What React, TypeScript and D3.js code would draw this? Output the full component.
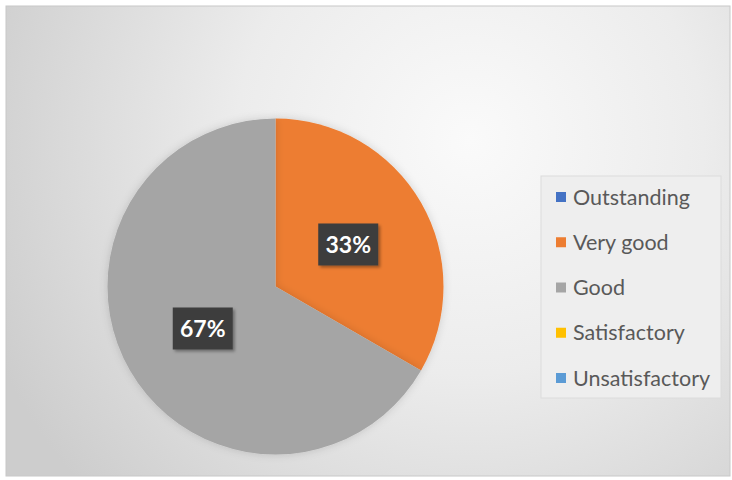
import { useRef, useEffect } from 'react'
import * as d3 from 'd3'

const categories = ['Outstanding', 'Very good', 'Good', 'Satisfactory', 'Unsatisfactory']
const values = [0, 1, 2, 0, 0]
const colors = ['#4472C4', '#ED7D31', '#A5A5A5', '#FFC000', '#5B9BD5']

export default function App() {
  const ref = useRef<SVGSVGElement>(null)

  useEffect(() => {
    if (!ref.current) return
    const svg = d3.select(ref.current)
    svg.selectAll('*').remove()

    const W = 732
    const H = 480
    const defs = svg.append('defs')

    // background radial gradient
    const grad = defs
      .append('radialGradient')
      .attr('id', 'bg')
      .attr('gradientUnits', 'userSpaceOnUse')
      .attr('cx', 470)
      .attr('cy', 140)
      .attr('r', 520)
    grad.append('stop').attr('offset', '0%').attr('stop-color', '#fafafa')
    grad.append('stop').attr('offset', '45%').attr('stop-color', '#ececec')
    grad.append('stop').attr('offset', '100%').attr('stop-color', '#cdcdcd')

    const shadow = defs.append('filter').attr('id', 'shadow').attr('x', '-20%').attr('y', '-20%').attr('width', '150%').attr('height', '150%')
    shadow
      .append('feDropShadow')
      .attr('dx', 2)
      .attr('dy', 2)
      .attr('stdDeviation', 1.5)
      .attr('flood-color', '#000')
      .attr('flood-opacity', 0.35)

    const pieShadow = defs.append('filter').attr('id', 'pieShadow').attr('x', '-20%').attr('y', '-20%').attr('width', '140%').attr('height', '140%')
    pieShadow
      .append('feDropShadow')
      .attr('dx', 0)
      .attr('dy', 0)
      .attr('stdDeviation', 4)
      .attr('flood-color', '#000')
      .attr('flood-opacity', 0.15)

    svg.append('rect').attr('width', W).attr('height', H).attr('fill', '#ffffff')
    svg
      .append('rect')
      .attr('x', 6)
      .attr('y', 6)
      .attr('width', W - 8)
      .attr('height', H - 10)
      .attr('fill', 'url(#bg)')
      .attr('stroke', '#c8c8c8')
      .attr('stroke-width', 1)

    // pie
    const cx = 275.5
    const cy = 286.5
    const r = 168
    const pie = d3
      .pie<number>()
      .sort(null)
      .value((d) => d)
    const arcs = pie(values)
    const arc = d3.arc<d3.PieArcDatum<number>>().innerRadius(0).outerRadius(r)

    const g = svg.append('g').attr('transform', `translate(${cx},${cy})`)
    g.selectAll('path.slice')
      .data(arcs.filter((a) => a.value > 0))
      .join('path')
      .attr('class', 'slice')
      .attr('d', arc)
      .attr('fill', (d) => colors[d.index])
      .attr('filter', 'url(#pieShadow)')

    const total = d3.sum(values)
    const labels = g
      .selectAll('g.lbl')
      .data(arcs.filter((a) => a.value > 0))
      .join('g')
      .attr('class', 'lbl')
      .attr('transform', (d) => `translate(${arc.centroid(d)})`)
    labels
      .append('rect')
      .attr('x', -30)
      .attr('y', -21)
      .attr('width', 60)
      .attr('height', 42)
      .attr('fill', '#3d3d3d')
      .attr('filter', 'url(#shadow)')
    labels
      .append('text')
      .attr('text-anchor', 'middle')
      .attr('dy', '0.36em')
      .attr('font-family', 'Lato, "Open Sans", sans-serif')
      .attr('font-weight', 'bold')
      .attr('font-size', 23)
      .attr('fill', '#ffffff')
      .text((d) => `${Math.round((d.value / total) * 100)}%`)

    // legend
    const lg = svg.append('g')
    lg.append('rect')
      .attr('x', 541)
      .attr('y', 176)
      .attr('width', 180)
      .attr('height', 222)
      .attr('fill', '#eeeeee')
      .attr('stroke', '#dcdcdc')
      .attr('stroke-width', 1)

    const ly = d3
      .scalePoint<string>()
      .domain(categories)
      .range([197, 378])
    const items = lg
      .selectAll('g.item')
      .data(categories)
      .join('g')
      .attr('class', 'item')
      .attr('transform', (d) => `translate(556,${ly(d)})`)
    items
      .append('rect')
      .attr('x', 0)
      .attr('y', -5)
      .attr('width', 10)
      .attr('height', 10)
      .attr('fill', (_, i) => colors[i])
    items
      .append('text')
      .attr('x', 17)
      .attr('dy', '0.35em')
      .attr('font-family', 'Lato, "Open Sans", sans-serif')
      .attr('font-size', 21.5)
      .attr('fill', '#595959')
      .text((d) => d)
  }, [])

  return (
    <svg
      ref={ref}
      width={732}
      height={480}
      style={{ position: 'absolute', left: 0, top: 0, display: 'block' }}
    />
  )
}
